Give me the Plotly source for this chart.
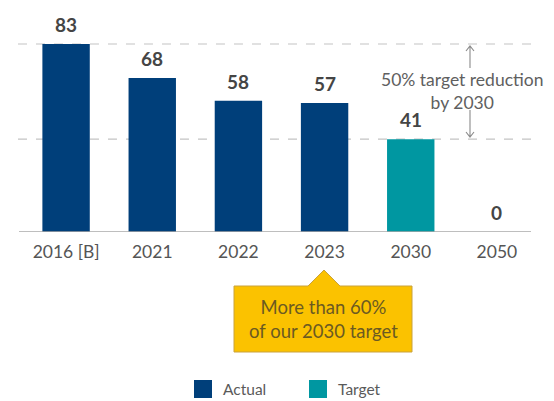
import plotly.graph_objects as go

categories = ["2016 [B]", "2021", "2022", "2023", "2030", "2050"]
actual_cats = ["2016 [B]", "2021", "2022", "2023"]
actual_vals = [83, 68, 58, 57]
target_cats = ["2030", "2050"]
target_vals = [41, 0]
baseline_val = 83
target_val = 41

NAVY = "#003f7a"
TEAL = "#0097a1"
FONT = "Lato"

# page has an 8px body margin; design coordinates are page pixels
OFF = 8
W, H = 554 - OFF, 401 - OFF
L, R, T, B = 23 - OFF, 540 - OFF, 10 - OFF, 232 - OFF  # plot area in figure px


def px(x):
    return (x - OFF - L) / (R - L)


def py(y):
    return (B - (y - OFF)) / (B - T)


def P(x, y):
    return f"{px(x)},{py(y)}"


fig = go.Figure()
fig.add_bar(x=actual_cats, y=actual_vals, marker_color=NAVY, marker_line_width=0,
            name="Actual", showlegend=False)
fig.add_bar(x=target_cats, y=target_vals, marker_color=TEAL, marker_line_width=0,
            name="Target", showlegend=False)

annotations = []
for c, v in list(zip(actual_cats, actual_vals)) + list(zip(target_cats, target_vals)):
    annotations.append(dict(x=categories.index(c), y=v, xref="x", yref="y",
                            text=f"<b>{v}</b>",
                            showarrow=False, yanchor="bottom", yshift=6,
                            font=dict(family=FONT, size=19, color="#454545")))

shapes = []
for v in (baseline_val, target_val):
    shapes.append(dict(type="line", xref="paper", yref="y", x0=px(18), x1=px(533),
                       y0=v, y1=v, line=dict(color="#c4c4c4", width=1.2, dash="dash"),
                       layer="below"))
shapes.append(dict(type="line", xref="paper", yref="y", x0=px(19), x1=px(531),
                   y0=0, y1=0, line=dict(color="#a8a8a8", width=1.5), layer="above"))

ax = 470
arrow_col = "#8a8a8a"
shapes.append(dict(type="path", xref="paper", yref="paper",
                   path=f"M {P(ax,46)} L {P(ax,68)} M {P(ax-4,51)} L {P(ax,46)} L {P(ax+4,51)}",
                   line=dict(color=arrow_col, width=1.1)))
shapes.append(dict(type="path", xref="paper", yref="paper",
                   path=f"M {P(ax,110)} L {P(ax,137)} M {P(ax-4,132)} L {P(ax,137)} L {P(ax+4,132)}",
                   line=dict(color=arrow_col, width=1.1)))
annotations.append(dict(x=px(462), y=py(91), xref="paper", yref="paper",
                        text="50% target reduction<br>by 2030", showarrow=False,
                        xanchor="center", yanchor="middle", align="center",
                        font=dict(family=FONT, size=17.5, color="#606060")))

callout = (f"M {P(234,286)} L {P(308,286)} L {P(324,270)} L {P(340,286)} "
           f"L {P(412,286)} L {P(412,352)} L {P(234,352)} Z")
shapes.append(dict(type="path", xref="paper", yref="paper", path=callout,
                   fillcolor="#fbc200", line=dict(color="#c9a23c", width=1)))
annotations.append(dict(x=px(323), y=py(319), xref="paper", yref="paper",
                        text="More than 60%<br>of our 2030 target", showarrow=False,
                        xanchor="center", yanchor="middle", align="center",
                        font=dict(family=FONT, size=18.5, color="#6b5a22")))

legend_items = [("Actual", NAVY, 194), ("Target", TEAL, 309)]
for name, col, x0 in legend_items:
    shapes.append(dict(type="rect", xref="paper", yref="paper",
                       x0=px(x0), x1=px(x0 + 18), y0=py(380), y1=py(398),
                       fillcolor=col, line=dict(width=0)))
    annotations.append(dict(x=px(x0 + 27), y=py(389), xref="paper", yref="paper",
                            text=name, showarrow=False, xanchor="left", yanchor="middle",
                            font=dict(family=FONT, size=15.5, color="#5a5a5a")))

fig.update_layout(
    width=W, height=H,
    margin=dict(l=L, r=W - R, t=T, b=H - B, pad=0),
    paper_bgcolor="white", plot_bgcolor="white",
    barmode="overlay", bargap=0.45,
    showlegend=False,
    shapes=shapes, annotations=annotations,
    font=dict(family=FONT),
)
fig.update_xaxes(type="category", categoryorder="array", categoryarray=categories,
                 range=[-0.5, 5.5], showline=False, showgrid=False, zeroline=False,
                 ticks="", ticklabelstandoff=7,
                 tickfont=dict(family=FONT, size=17.5, color="#555555"))
fig.update_yaxes(range=[0, (B - T) / (188 / 83)], visible=False, showgrid=False,
                 zeroline=False)

fig.write_html("out.html")
